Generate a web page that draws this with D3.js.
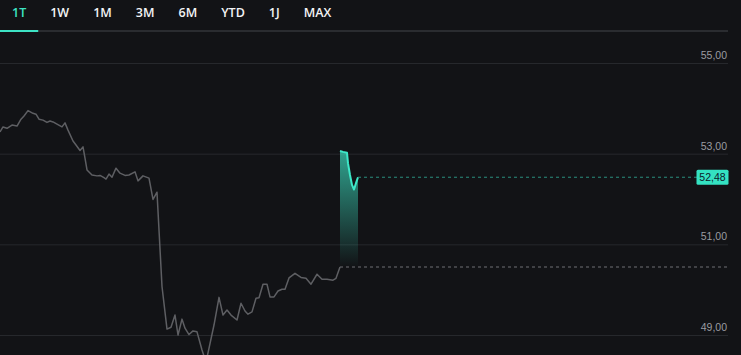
<!DOCTYPE html>
<html>
<head>
<meta charset="utf-8">
<script src="https://cdn.jsdelivr.net/npm/d3@7"></script>
<style>
  html, body { margin: 0; padding: 0; background: #121316; overflow: hidden; }
  svg { display: block; font-family: "Open Sans", "DejaVu Sans", sans-serif; }
</style>
</head>
<body>
<script>
// chart size
var width = 741, height = 355;
var plotRight = 728;

// tabs
var tabs = ["1T", "1W", "1M", "3M", "6M", "YTD", "1J", "MAX"];
var activeTab = "1T";

// y ticks
var yTicks = [49, 51, 53, 55];

// previous session (time step, price)
var prevT = [0, 1.5, 3.5, 6, 8.5, 10.5, 12, 14, 16.5, 18, 19.5, 21.5, 23.5, 25, 26.5, 28.5, 31, 32.5, 34, 36.5, 38, 40, 41.5, 42.5, 43.5, 46, 48.5, 50, 52, 53, 54.5, 56, 58, 60, 62.5, 64.5, 67.5, 69, 71.5, 74.5, 76.5, 78.5, 81, 83.5, 85.5, 87.5, 89, 91, 92.5, 94.5, 96.5, 98.5, 101, 103, 107, 109.5, 111.5, 113.5, 115.5, 118.5, 120.5, 122.5, 124, 126, 128, 129.5, 131.5, 133.5, 135, 137, 139, 141, 142.5, 144.5, 147.5, 150.5, 153, 155.5, 158.5, 161, 163.5, 166.5, 168, 170];
var prevV = [53.48, 53.59, 53.56, 53.63, 53.61, 53.76, 53.83, 53.95, 53.89, 53.87, 53.76, 53.74, 53.69, 53.72, 53.70, 53.65, 53.59, 53.68, 53.52, 53.28, 53.19, 53.07, 53.15, 52.90, 52.64, 52.53, 52.51, 52.52, 52.47, 52.44, 52.55, 52.48, 52.68, 52.57, 52.52, 52.53, 52.60, 52.40, 52.51, 52.46, 51.99, 52.15, 50.07, 49.13, 49.17, 49.44, 49.00, 49.35, 49.15, 49.01, 49.09, 49.07, 48.67, 48.40, 49.22, 49.83, 49.44, 49.55, 49.44, 49.33, 49.70, 49.53, 49.46, 49.51, 49.81, 49.82, 50.12, 50.12, 49.84, 49.84, 49.97, 50.01, 50.01, 50.26, 50.36, 50.27, 50.25, 50.12, 50.34, 50.23, 50.23, 50.21, 50.25, 50.50];

// current session
var curT = [170, 171.5, 173.5, 174, 175, 176, 177, 178, 179];
var curV = [53.06, 53.04, 53.02, 52.79, 52.53, 52.31, 52.21, 52.35, 52.48];

var prevClose = 50.50;
var lastPrice = 52.48;
var tDomain = [0, 364];

var fmt = function(v) { return v.toFixed(2).replace(".", ","); };

var svg = d3.select("body").append("svg")
  .attr("width", width).attr("height", height);

var defs = svg.append("defs");
var grad = defs.append("linearGradient").attr("id", "areaGrad")
  .attr("x1", 0).attr("y1", 0).attr("x2", 0).attr("y2", 1);
grad.append("stop").attr("offset", "0%").attr("stop-color", "#3de3c4").attr("stop-opacity", 0.7);
grad.append("stop").attr("offset", "100%").attr("stop-color", "#3de3c4").attr("stop-opacity", 0);

var x = d3.scaleLinear().domain(tDomain).range([0, plotRight]);
var y = d3.scaleLinear().domain([49, 55]).range([335, 63]);

// tab bar
var tabG = svg.append("g");
tabG.append("line")
  .attr("x1", 0).attr("x2", plotRight).attr("y1", 31).attr("y2", 31)
  .attr("stroke", "#2a2c30").attr("stroke-width", 2);

var pad = 12, cx = 0;
tabs.forEach(function(t) {
  var txt = tabG.append("text")
    .attr("y", 16.5)
    .attr("font-size", 12.5)
    .attr("font-weight", 600)
    .attr("fill", t === activeTab ? "#3de3c4" : "#f2f3f5")
    .text(t);
  var w = txt.node().getComputedTextLength();
  txt.attr("x", cx + pad);
  if (t === activeTab) {
    tabG.append("line")
      .attr("x1", cx).attr("x2", cx + w + 2 * pad)
      .attr("y1", 31).attr("y2", 31)
      .attr("stroke", "#3de3c4").attr("stroke-width", 2);
  }
  cx += w + 2 * pad;
});

// grid + y labels
var grid = svg.append("g");
grid.selectAll("line").data(yTicks).enter().append("line")
  .attr("x1", 0).attr("x2", plotRight)
  .attr("y1", function(d) { return y(d) + 0.5; })
  .attr("y2", function(d) { return y(d) + 0.5; })
  .attr("stroke", "#26282c").attr("stroke-width", 1);
grid.selectAll("text").data(yTicks).enter().append("text")
  .attr("x", plotRight - 1)
  .attr("y", function(d) { return y(d) - 4; })
  .attr("text-anchor", "end")
  .attr("font-family", "'Liberation Sans', Arial, sans-serif")
  .attr("font-size", 10.5)
  .attr("fill", "#9a9ca1")
  .text(fmt);

var prevData = prevT.map(function(t, i) { return { t: t, v: prevV[i] }; });
var curData = curT.map(function(t, i) { return { t: t, v: curV[i] }; });

var line = d3.line().x(function(d) { return x(d.t); }).y(function(d) { return y(d.v); });
var area = d3.area()
  .x(function(d) { return x(d.t); })
  .y0(y(prevClose))
  .y1(function(d) { return y(d.v); });

// previous close dashed
svg.append("line")
  .attr("x1", x(prevT[prevT.length - 1])).attr("x2", plotRight)
  .attr("y1", y(prevClose)).attr("y2", y(prevClose))
  .attr("stroke", "#6e7075").attr("stroke-width", 1)
  .attr("stroke-dasharray", "3,3");

// previous session line
svg.append("path").datum(prevData)
  .attr("d", line)
  .attr("fill", "none")
  .attr("stroke", "#5e5f63")
  .attr("stroke-width", 1.5)
  .attr("stroke-linejoin", "round");

// current session area + line
svg.append("path").datum(curData)
  .attr("d", area)
  .attr("fill", "url(#areaGrad)");

svg.append("path").datum(curData)
  .attr("d", line)
  .attr("fill", "none")
  .attr("stroke", "#3de8c8")
  .attr("stroke-width", 2)
  .attr("stroke-linejoin", "round");

// last price dashed line + label
var ly = y(lastPrice);
svg.append("line")
  .attr("x1", x(curT[curT.length - 1])).attr("x2", 697)
  .attr("y1", ly).attr("y2", ly)
  .attr("stroke", "#2a8f7e").attr("stroke-width", 1)
  .attr("stroke-dasharray", "3,3");

svg.append("rect")
  .attr("x", 696.5).attr("y", ly - 7.5)
  .attr("width", 32).attr("height", 15)
  .attr("rx", 1.5)
  .attr("fill", "#34e2c2");
svg.append("text")
  .attr("x", 712.5).attr("y", ly + 4)
  .attr("text-anchor", "middle")
  .attr("font-family", "'Liberation Sans', Arial, sans-serif")
  .attr("font-size", 10.5)
  .attr("fill", "#0c1a2a")
  .text(fmt(lastPrice));
</script>
</body>
</html>
